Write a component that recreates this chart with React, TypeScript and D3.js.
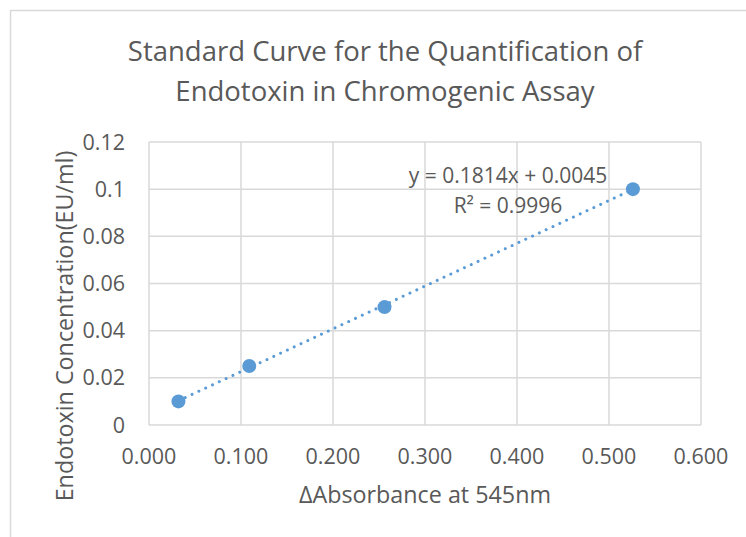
import { useEffect, useRef } from 'react';
import * as d3 from 'd3';

// Data
const absorbance = [0.032, 0.109, 0.256, 0.526];
const concentration = [0.01, 0.025, 0.05, 0.1];
const xTicks = [0, 0.1, 0.2, 0.3, 0.4, 0.5, 0.6];
const yTicks = [0, 0.02, 0.04, 0.06, 0.08, 0.1, 0.12];
const titleLines = ['Standard Curve for the Quantification of', 'Endotoxin in Chromogenic Assay'];
const slope = 0.1814;
const intercept = 0.0045;
const rSquared = 0.9996;

const W = 746;
const H = 537;
const PLOT = { left: 149, right: 701, top: 142, bottom: 425 };
const FONT = '"Open Sans", sans-serif';
const TEXT = '#595959';
const GRID = '#d9d9d9';
const BLUE = '#5b9bd5';

export default function App() {
  const svgRef = useRef<SVGSVGElement>(null);

  useEffect(() => {
    if (!svgRef.current) return;
    const svg = d3.select(svgRef.current);
    svg.selectAll('*').remove();

    const x = d3.scaleLinear().domain([0, 0.6]).range([PLOT.left, PLOT.right]);
    const y = d3.scaleLinear().domain([0, 0.12]).range([PLOT.bottom, PLOT.top]);

    // chart border (runs off the right/bottom edge like the screenshot)
    svg.append('rect')
      .attr('x', 10.5).attr('y', 10.5)
      .attr('width', W + 20).attr('height', H + 20)
      .attr('fill', '#fff').attr('stroke', GRID).attr('stroke-width', 1.5);

    // ── Title ─────────────────────────────────────────────
    svg.append('g')
      .selectAll('text')
      .data(titleLines)
      .join('text')
      .attr('x', 385)
      .attr('y', (_, i) => 61 + i * 40)
      .attr('text-anchor', 'middle')
      .attr('font-family', FONT)
      .attr('font-size', 27.5)
      .attr('fill', TEXT)
      .text(d => d);

    // ── Gridlines ─────────────────────────────────────────
    const grid = svg.append('g').attr('stroke', GRID).attr('stroke-width', 1.5);
    grid.selectAll('line.h')
      .data(yTicks)
      .join('line')
      .attr('class', 'h')
      .attr('x1', PLOT.left).attr('x2', PLOT.right)
      .attr('y1', d => y(d)).attr('y2', d => y(d));
    grid.selectAll('line.v')
      .data(xTicks)
      .join('line')
      .attr('class', 'v')
      .attr('x1', d => x(d)).attr('x2', d => x(d))
      .attr('y1', PLOT.top).attr('y2', PLOT.bottom);

    // ── Tick labels ───────────────────────────────────────
    svg.append('g')
      .selectAll('text')
      .data(yTicks)
      .join('text')
      .attr('x', PLOT.left - 24)
      .attr('y', d => y(d))
      .attr('dy', '0.35em')
      .attr('text-anchor', 'end')
      .attr('font-family', FONT)
      .attr('font-size', 21.5)
      .attr('fill', TEXT)
      .text(d => (d === 0 ? '0' : String(+d.toFixed(2))));

    svg.append('g')
      .selectAll('text')
      .data(xTicks)
      .join('text')
      .attr('x', d => x(d))
      .attr('y', 464)
      .attr('text-anchor', 'middle')
      .attr('font-family', FONT)
      .attr('font-size', 21.5)
      .attr('fill', TEXT)
      .text(d => d3.format('.3f')(d));

    // ── Axis titles ───────────────────────────────────────
    svg.append('text')
      .attr('x', (PLOT.left + PLOT.right) / 2)
      .attr('y', 503)
      .attr('text-anchor', 'middle')
      .attr('font-family', FONT)
      .attr('font-size', 23.3)
      .attr('fill', TEXT)
      .text('ΔAbsorbance at 545nm');

    svg.append('text')
      .attr('transform', 'translate(73,326) rotate(-90)')
      .attr('text-anchor', 'middle')
      .attr('font-family', FONT)
      .attr('font-size', 23.3)
      .attr('fill', TEXT)
      .text('Endotoxin Concentration(EU/ml)');

    // ── Trendline (dotted) ────────────────────────────────
    const [xMin, xMax] = d3.extent(absorbance) as [number, number];
    const line = d3.line<number>()
      .x(d => x(d))
      .y(d => y(slope * d + intercept));
    svg.append('path')
      .attr('d', line([xMin, xMax]))
      .attr('fill', 'none')
      .attr('stroke', BLUE)
      .attr('stroke-width', 3)
      .attr('stroke-linecap', 'round')
      .attr('stroke-dasharray', '0.01 7.5');

    // ── Points ────────────────────────────────────────────
    svg.append('g')
      .selectAll('circle')
      .data(absorbance)
      .join('circle')
      .attr('cx', d => x(d))
      .attr('cy', (_, i) => y(concentration[i]))
      .attr('r', 7)
      .attr('fill', BLUE);

    // ── Equation label ────────────────────────────────────
    const eq = svg.append('g')
      .attr('font-family', FONT)
      .attr('font-size', 21)
      .attr('fill', TEXT)
      .attr('text-anchor', 'middle');
    eq.append('text')
      .attr('x', 508).attr('y', 183)
      .text(`y = ${slope}x + ${intercept.toFixed(4)}`);
    eq.append('text')
      .attr('x', 508).attr('y', 213)
      .text(`R² = ${rSquared}`);
  }, []);

  return (
    <svg
      ref={svgRef}
      width={W}
      height={H}
      style={{ position: 'absolute', left: 0, top: 0, background: '#fff' }}
    />
  );
}
